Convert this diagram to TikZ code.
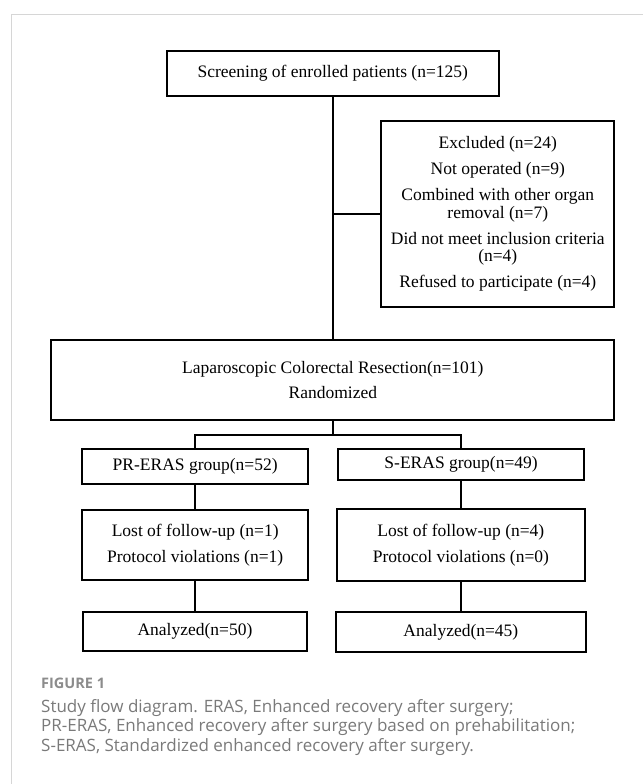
\documentclass[tikz,border=0pt]{standalone}
\usepackage{fontspec}
\setmainfont{Liberation Serif}
\newfontfamily\capfont{Open Sans}
\definecolor{framec}{HTML}{D6D6D6}
\definecolor{capc}{HTML}{7A7A7A}
\definecolor{figc}{HTML}{8C8C8C}
\begin{document}
\begin{tikzpicture}[x=1pt,y=-1pt,
  box/.style={draw=black,line width=2pt,inner sep=0pt,align=center,
    font=\fontsize{17.5}{17.5}\selectfont},
  conn/.style={line width=1.7pt},
  captext/.style={anchor=base west,inner sep=0pt,text=capc,font=\capfont\fontsize{17}{20}\selectfont}]
\useasboundingbox (0,0) rectangle (643,784);
\fill[white] (0,0) rectangle (643,784);
\draw[framec,line width=1pt] (11.5,784) -- (11.5,14.3) -- (643,14.3);

\node[box,minimum width=332.6pt,minimum height=45.3pt] (scr) at (332.8,73.3)
  {Screening of enrolled patients (n=125)};
\node[box,minimum width=232.9pt,minimum height=186pt] (exc) at (497.8,214)
  {Excluded (n=24)\\[8.5pt]Not operated (n=9)\\[8.5pt]Combined with other organ\\removal (n=7)\\[8.5pt]Did not meet inclusion criteria\\(n=4)\\[8.5pt]Refused to participate (n=4)};
\node[box,minimum width=563pt,minimum height=79.7pt] (lap) at (332.8,379.8)
  {Laparoscopic Colorectal Resection(n=101)\\[7.5pt]Randomized};
\node[box,minimum width=226.4pt,minimum height=34.7pt] (pr) at (195.2,466.7)
  {PR-ERAS group(n=52)};
\node[box,minimum width=245.6pt,minimum height=31pt] (se) at (461.1,464.8)
  {S-ERAS group(n=49)};
\node[box,minimum width=226.4pt,minimum height=69.7pt] (lostL) at (195.2,545.2)
  {Lost of follow-up (n=1)\\[8pt]Protocol violations (n=1)};
\node[box,minimum width=247.7pt,minimum height=71.4pt] (lostR) at (460.9,545)
  {Lost of follow-up (n=4)\\[8pt]Protocol violations (n=0)};
\node[box,minimum width=224.3pt,minimum height=38.7pt] (anL) at (195,631.7)
  {Analyzed(n=50)};
\node[box,minimum width=249.3pt,minimum height=40pt] (anR) at (460.9,632.3)
  {Analyzed(n=45)};

\coordinate (sp) at (332.8,435.3);
\draw[conn] (scr.south) -- (lap.north);
\draw[conn] (scr.south |- exc.west) -- (exc.west);
\draw[conn] (lap.south) -- (sp);
\draw[conn] (pr.north) |- (sp) -| (se.north);
\draw[conn] (pr.south) -- (pr.south |- lostL.north);
\draw[conn] (lostL.south) -- (lostL.south |- anL.north);
\draw[conn] (se.south) -- (se.south |- lostR.north);
\draw[conn] (lostR.south) -- (lostR.south |- anR.north);

\node[captext,text=figc,font=\capfont\bfseries\fontsize{14.5}{16}\selectfont] (fig) at (41,688.5) {FIGURE 1};
\node[captext] (c1) at (41,712) {Study flow diagram. ERAS, Enhanced recovery after surgery;};
\node[captext] (c2) at (41,731) {PR-ERAS, Enhanced recovery after surgery based on prehabilitation;};
\node[captext] (c3) at (41,751.5) {S-ERAS, Standardized enhanced recovery after surgery.};
\end{tikzpicture}
\end{document}
